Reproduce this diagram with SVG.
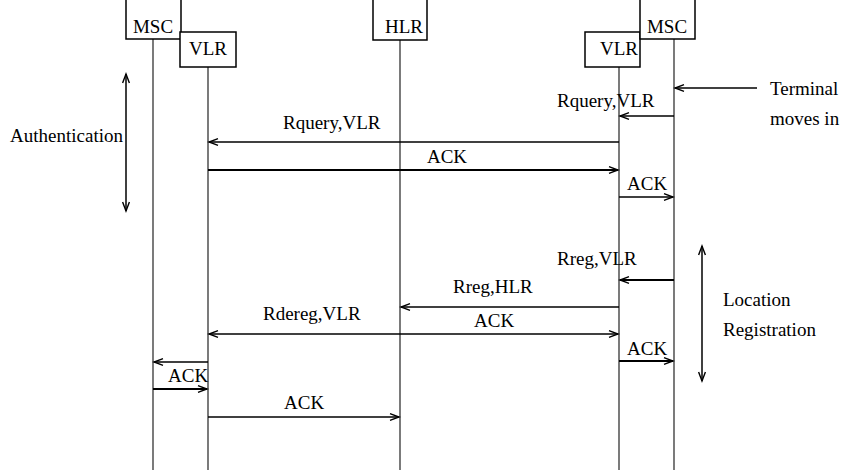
<svg xmlns="http://www.w3.org/2000/svg" width="841" height="470" viewBox="0 0 841 470">
<style>
text{font-family:"Liberation Serif","Times New Roman",serif;font-size:19px;fill:#000}
.box{fill:#fff;stroke:#000;stroke-width:1.5}
.life{stroke:#333;stroke-width:1.3;fill:none}
.msg{stroke:#000;stroke-width:1.5;fill:none;marker-end:url(#ah)}
.thick{stroke-width:2}
.dbl{stroke:#000;stroke-width:1.5;fill:none;marker-start:url(#ah);marker-end:url(#ah)}
.c{text-anchor:middle}
</style>
<defs>
<marker id="ah" markerUnits="userSpaceOnUse" markerWidth="12" markerHeight="10" refX="10" refY="5" orient="auto-start-reverse" viewBox="0 0 12 10">
<path d="M1,1.6 L10,5 L1,8.4" fill="none" stroke="#000" stroke-width="1.4"/>
</marker>
</defs>
<g id="lifelines">
<line class="life" x1="153" y1="39" x2="153" y2="470"/>
<line class="life" x1="208" y1="67" x2="208" y2="470"/>
<line class="life" x1="400" y1="40" x2="400" y2="470"/>
<line class="life" x1="619" y1="67" x2="619" y2="470"/>
<line class="life" x1="674" y1="39" x2="674" y2="470"/>
</g>
<g id="msc-left">
<path class="box" d="M126,0 V39 H181 V0"/>
<text class="c" x="153" y="33">MSC</text>
</g>
<g id="vlr-left">
<rect class="box" x="180" y="32" width="56" height="35"/>
<text class="c" x="208" y="55">VLR</text>
</g>
<g id="hlr">
<path class="box" d="M373,0 V40 H427 V0"/>
<text class="c" x="404" y="33">HLR</text>
</g>
<g id="vlr-right">
<rect class="box" x="585" y="32" width="55" height="35"/>
<text class="c" x="619" y="55">VLR</text>
</g>
<g id="msc-right">
<path class="box" d="M640,0 V39 H695 V0"/>
<text class="c" x="667" y="33">MSC</text>
</g>
<g id="connectors">
<line class="msg" x1="757" y1="88" x2="675" y2="88"/>
<line class="msg" x1="674" y1="116" x2="620" y2="116"/>
<line class="msg" x1="619" y1="142" x2="209" y2="142"/>
<line class="msg thick" x1="208" y1="170" x2="618" y2="170"/>
<line class="msg" x1="619" y1="197" x2="673" y2="197"/>
<line class="msg thick" x1="674" y1="280" x2="620" y2="280"/>
<line class="msg" x1="619" y1="307" x2="401" y2="307"/>
<line class="msg" x1="400" y1="334" x2="209" y2="334"/>
<line class="msg" x1="400" y1="334" x2="618" y2="334"/>
<line class="msg thick" x1="619" y1="361" x2="673" y2="361"/>
<line class="msg" x1="208" y1="362" x2="154" y2="362"/>
<line class="msg thick" x1="153" y1="389" x2="207" y2="389"/>
<line class="msg" x1="208" y1="417" x2="399" y2="417"/>
<line class="dbl" x1="126" y1="74" x2="126" y2="211"/>
<line class="dbl" x1="702" y1="246" x2="702" y2="381"/>
</g>
<g id="labels">
<text x="770" y="95">Terminal</text>
<text x="770" y="125">moves in</text>
<text x="557" y="107">Rquery,VLR</text>
<text x="283" y="129">Rquery,VLR</text>
<text class="c" x="447" y="163">ACK</text>
<text x="627" y="190">ACK</text>
<text x="557" y="265">Rreg,VLR</text>
<text x="453" y="293">Rreg,HLR</text>
<text x="263" y="320">Rdereg,VLR</text>
<text x="474" y="327">ACK</text>
<text x="627" y="355">ACK</text>
<text x="168" y="382">ACK</text>
<text x="284" y="409">ACK</text>
<text x="123" y="142" text-anchor="end">Authentication</text>
<text x="723" y="306">Location</text>
<text x="723" y="336">Registration</text>
</g>
</svg>
